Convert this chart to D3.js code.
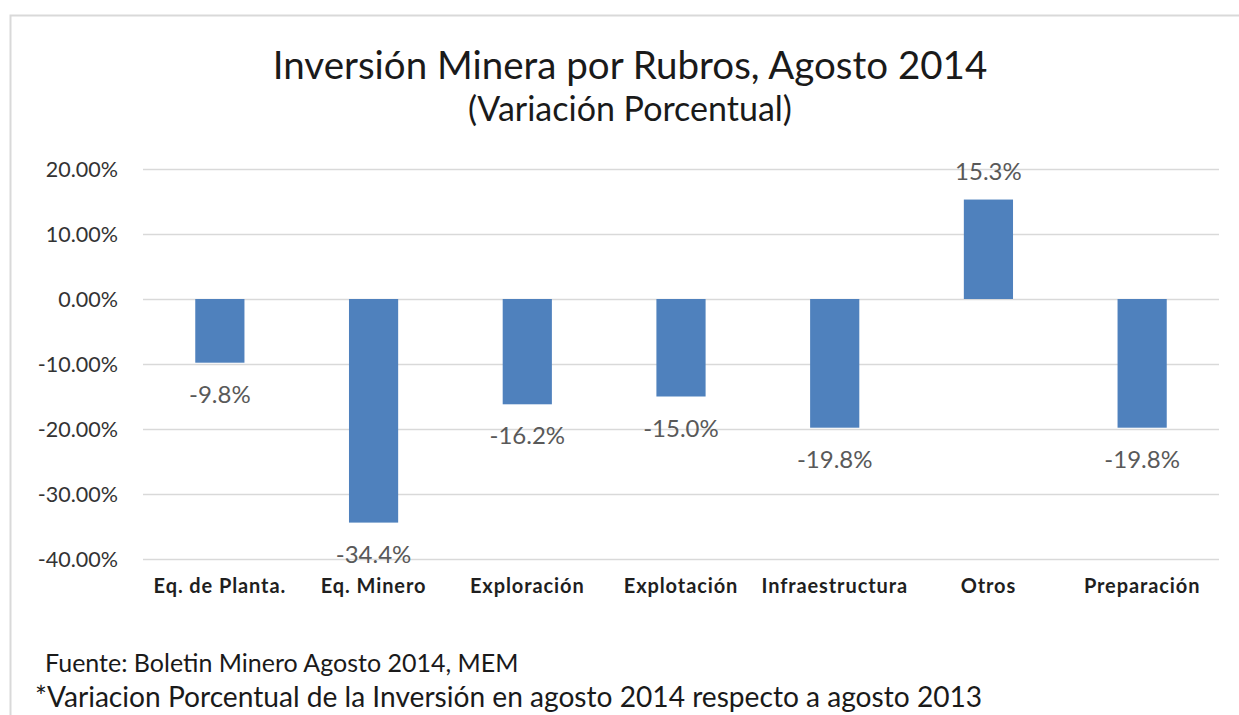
<!DOCTYPE html>
<html><head><meta charset="utf-8">
<script src="https://cdn.jsdelivr.net/npm/d3@7"></script>
<style>body{margin:0;background:#fff}svg{display:block}</style>
</head><body>
<script>
const categories = ["Eq. de Planta.","Eq. Minero","Exploración","Explotación","Infraestructura","Otros","Preparación"];
const values = [-9.8,-34.4,-16.2,-15.0,-19.8,15.3,-19.8];
const valueLabels = ["-9.8%","-34.4%","-16.2%","-15.0%","-19.8%","15.3%","-19.8%"];
const yTicks = [20,10,0,-10,-20,-30,-40];
const title = "Inversión Minera por Rubros, Agosto 2014";
const subtitle = "(Variación Porcentual)";
const foot1 = "Fuente: Boletin Minero Agosto 2014, MEM";
const foot2 = "*Variacion Porcentual de la Inversión en agosto 2014 respecto a agosto 2013";

const W=1239,H=715;
const svg=d3.select("body").append("svg").attr("width",W).attr("height",H);
const FONT="Lato, 'Open Sans', sans-serif";

// frame
svg.append("path").attr("d",`M10.5,${H} L10.5,15.5 L${W},15.5`).attr("fill","none").attr("stroke","#d9d9d9").attr("stroke-width",2);

const x=d3.scaleBand().domain(categories).range([143,1219]).paddingInner(0.68).paddingOuter(0.34);
const y=d3.scaleLinear().domain([-40,20]).range([559,169]);

// gridlines
svg.append("g").selectAll("line").data(yTicks).join("line")
 .attr("x1",143).attr("x2",1219).attr("y1",d=>Math.round(y(d))+0.5).attr("y2",d=>Math.round(y(d))+0.5)
 .attr("stroke","#d9d9d9").attr("stroke-width",1.5);

// y axis
const yAxis=d3.axisLeft(y).tickValues(yTicks).tickSize(0).tickPadding(0).tickFormat(d=>d.toFixed(2)+"%");
const gy=svg.append("g").attr("transform","translate(118,0)").call(yAxis);
gy.select(".domain").remove();
gy.selectAll("text").attr("font-family",FONT).attr("font-size",21.5).attr("fill","#333333").attr("dy","0.36em");

// bars
svg.append("g").selectAll("rect").data(values).join("rect")
 .attr("x",(d,i)=>x(categories[i])).attr("width",x.bandwidth())
 .attr("y",d=>y(Math.max(0,d))).attr("height",d=>Math.abs(y(d)-y(0)))
 .attr("fill","#4f81bd");

// value labels
svg.append("g").selectAll("text").data(values).join("text")
 .attr("x",(d,i)=>x(categories[i])+x.bandwidth()/2)
 .attr("y",d=>d<0? y(d)+40 : y(d)-20)
 .attr("text-anchor","middle")
 .attr("font-family",FONT).attr("font-size",24).attr("fill","#595959")
 .text((d,i)=>valueLabels[i]);

// x axis
const xAxis=d3.axisBottom(x).tickSize(0).tickPadding(0);
const gx=svg.append("g").attr("transform","translate(0,593)").call(xAxis);
gx.select(".domain").remove();
gx.selectAll("text").attr("font-family",FONT).attr("font-size",20).attr("font-weight","bold")
 .attr("letter-spacing","0.9px").attr("fill","#1f1f1f").attr("dy",0);

function fit(sel,target){const w=sel.node().getComputedTextLength();const fs=+sel.attr("font-size");sel.attr("font-size",fs*target/w);}
const t1=svg.append("text").attr("x",630).attr("y",79).attr("text-anchor","middle").attr("font-family",FONT).attr("font-size",34).attr("fill","#1a1a1a").text(title);
fit(t1,715);
const t2=svg.append("text").attr("x",630).attr("y",121).attr("text-anchor","middle").attr("font-family",FONT).attr("font-size",26).attr("fill","#1a1a1a").text(subtitle);
fit(t2,324);
const f1=svg.append("text").attr("x",45).attr("y",672).attr("font-family",FONT).attr("font-size",25).attr("fill","#1a1a1a").text(foot1);
const f2=svg.append("text").attr("x",35).attr("y",707).attr("font-family",FONT).attr("font-size",24).attr("fill","#1a1a1a").text(foot2);
fit(f2,948);
</script>
</body></html>
